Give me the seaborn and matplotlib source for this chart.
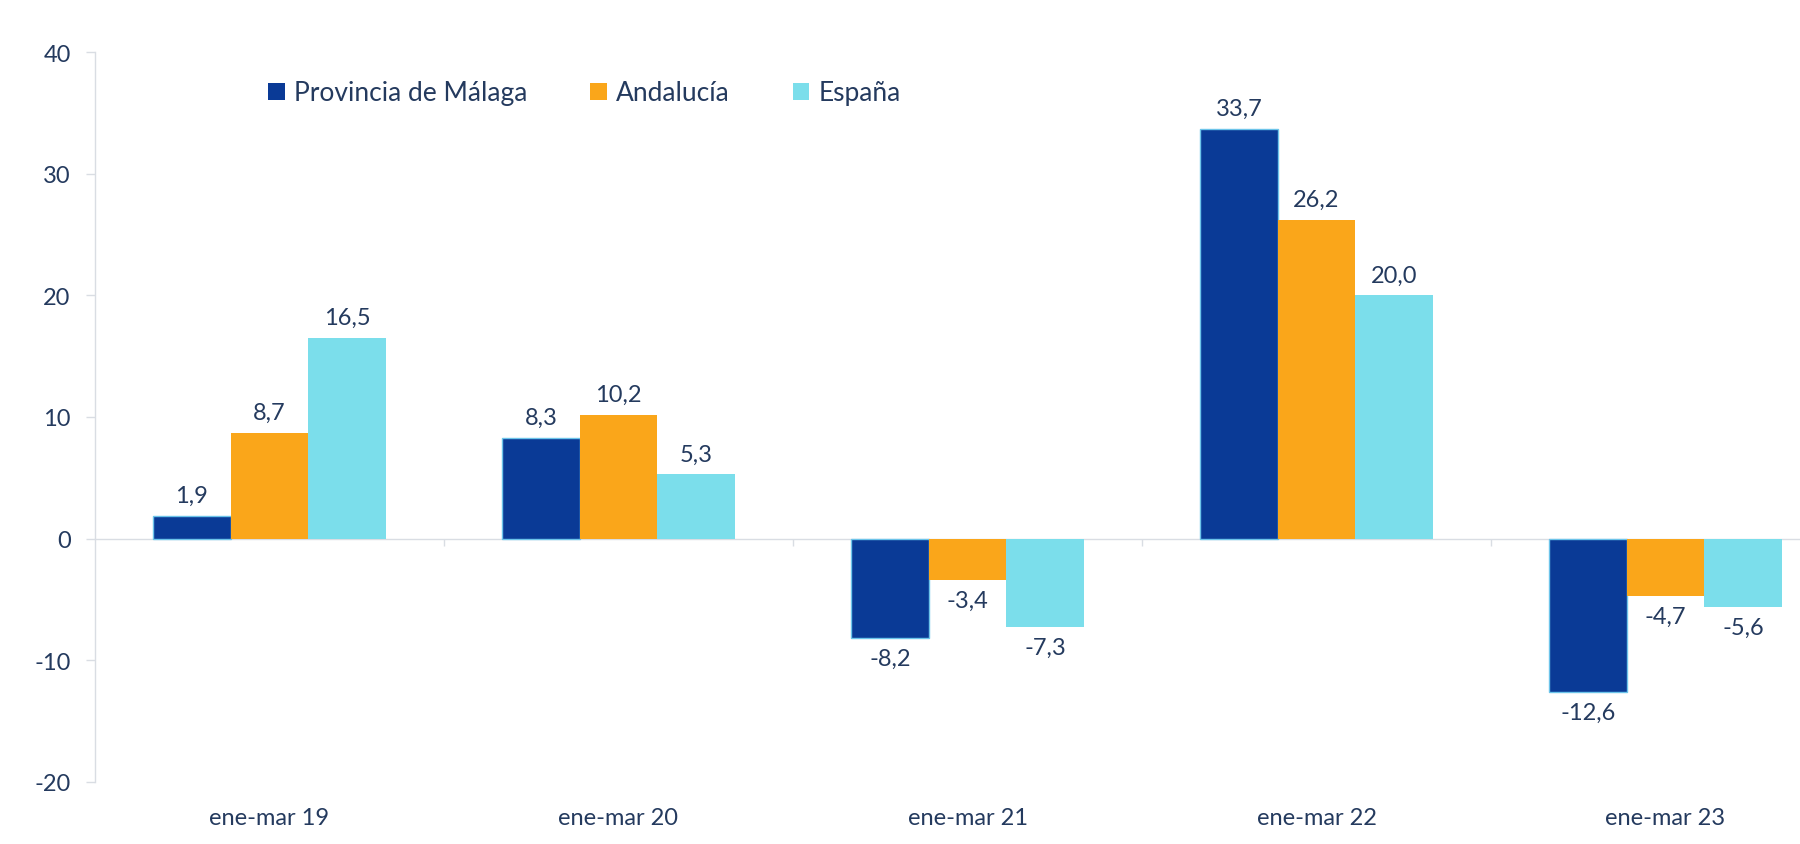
import pandas as pd
import seaborn as sns
import matplotlib.pyplot as plt

# data
periods = ["ene-mar 19", "ene-mar 20", "ene-mar 21", "ene-mar 22", "ene-mar 23"]
series = ["Provincia de Málaga", "Andalucía", "España"]
malaga = [1.9, 8.3, -8.2, 33.7, -12.6]
andalucia = [8.7, 10.2, -3.4, 26.2, -4.7]
espana = [16.5, 5.3, -7.3, 20.0, -5.6]
yticks = [-20, -10, 0, 10, 20, 30, 40]

colors = ["#0A3A96", "#FAA61A", "#7BDEEB"]
text_color = "#243A5E"
line_color = "#D9DDE3"

df = pd.DataFrame({
    "periodo": periods * 3,
    "serie": [s for s in series for _ in periods],
    "valor": malaga + andalucia + espana,
})

sns.set_theme(style="white")
plt.rcParams["font.family"] = ["Lato", "DejaVu Sans"]
plt.rcParams["axes.unicode_minus"] = False

fig = plt.figure(figsize=(18, 8.45), dpi=100)
ax = fig.add_axes([95 / 1800, 62 / 845, 1745 / 1800, 730 / 845])

sns.barplot(data=df, x="periodo", y="valor", hue="serie", order=periods,
            hue_order=series, palette=colors, width=0.667, gap=0,
            saturation=1, ax=ax, edgecolor="none", linewidth=0)

# thin light outline on the dark blue bars
for bar in ax.containers[0]:
    bar.set_edgecolor("#6CC4EA")
    bar.set_linewidth(1)

for cont in ax.containers:
    vals = [b.get_height() for b in cont]
    ax.bar_label(cont, labels=[f"{v:.1f}".replace(".", ",") for v in vals],
                 padding=7, fontsize=17, color=text_color)

ax.set_ylim(-20, 40)
ax.set_xlim(-0.5, len(periods) - 0.5)
ax.set_yticks(yticks)
ax.set_xlabel("")
ax.set_ylabel("")

for side in ["top", "right", "bottom"]:
    ax.spines[side].set_visible(False)
ax.spines["left"].set_color(line_color)
ax.spines["left"].set_linewidth(1)
ax.tick_params(axis="y", left=True, length=6.5, width=1, color=line_color,
               pad=11, labelsize=17, labelcolor=text_color)
ax.tick_params(axis="x", bottom=False, length=0, pad=18, labelsize=17,
               labelcolor=text_color)

# zero line with category separators
zero = ax.secondary_xaxis(1 / 3)
zero.set_xticks([i + 0.5 for i in range(len(periods) - 1)])
zero.set_xticklabels([])
zero.spines["bottom"].set_color(line_color)
zero.spines["bottom"].set_linewidth(1)
zero.tick_params(length=5, width=1, color=line_color)

ax.legend(title=None, ncol=3, loc="center left", bbox_to_anchor=(0.0994, 0.944),
          frameon=False, fontsize=19, labelcolor=text_color, handlelength=0.62,
          handleheight=0.62, handletextpad=0.34, columnspacing=2.4,
          borderpad=0, borderaxespad=0)

fig.savefig("out.png", dpi=100)
